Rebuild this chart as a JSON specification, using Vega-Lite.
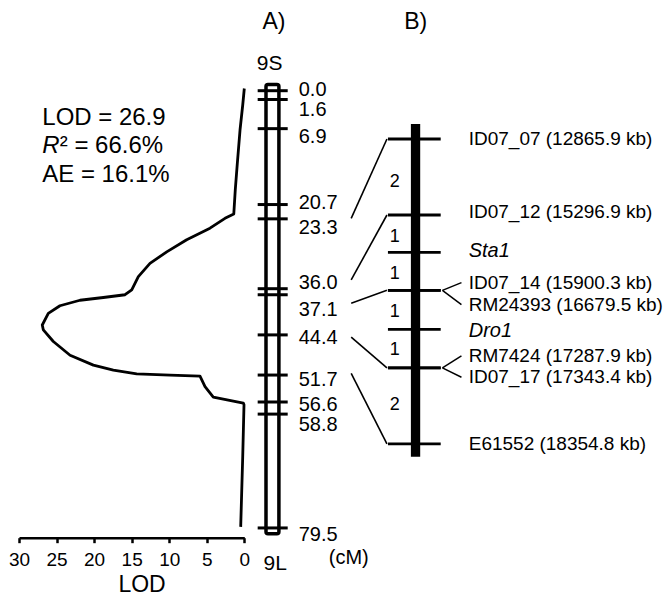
{
  "$schema": "https://vega.github.io/schema/vega-lite/v6.json",
  "padding": {"left": 8, "top": 0, "right": 0, "bottom": 0},
  "bounds": "flush",
  "spacing": 0,
  "config": {"view": {"stroke": null}, "font": "Liberation Sans", "text": {"color": "black", "font": "Liberation Sans"}},
  "datasets": {
    "lod": [
      {"cM": -0.4, "LOD": 0.0}, {"cM": 2.6, "LOD": 0.21}, {"cM": 7.15, "LOD": 0.57}, {"cM": 13.2, "LOD": 0.93},
      {"cM": 18.0, "LOD": 1.2}, {"cM": 22.4, "LOD": 1.4}, {"cM": 23.2, "LOD": 2.57}, {"cM": 25.0, "LOD": 4.57},
      {"cM": 27.1, "LOD": 7.67}, {"cM": 29.3, "LOD": 10.33}, {"cM": 31.4, "LOD": 12.56}, {"cM": 33.8, "LOD": 14.11},
      {"cM": 36.2, "LOD": 14.99}, {"cM": 37.1, "LOD": 15.88}, {"cM": 37.6, "LOD": 18.77}, {"cM": 38.1, "LOD": 21.88},
      {"cM": 39.1, "LOD": 24.55}, {"cM": 40.5, "LOD": 26.1}, {"cM": 42.6, "LOD": 26.9}, {"cM": 43.5, "LOD": 26.76},
      {"cM": 45.6, "LOD": 25.43}, {"cM": 48.1, "LOD": 23.2}, {"cM": 49.9, "LOD": 20.1}, {"cM": 50.8, "LOD": 17.44},
      {"cM": 51.5, "LOD": 14.33}, {"cM": 51.7, "LOD": 9.89}, {"cM": 51.9, "LOD": 5.9}, {"cM": 53.8, "LOD": 5.23},
      {"cM": 55.7, "LOD": 4.13}, {"cM": 56.8, "LOD": 0.13}, {"cM": 57.1, "LOD": 0.04}, {"cM": 66.5, "LOD": 0.21},
      {"cM": 79.3, "LOD": 0.48}
    ],
    "amap": [
      {"cM": 0.0, "label": "0.0", "label_cM": -0.2},
      {"cM": 1.6, "label": "1.6", "label_cM": 3.5},
      {"cM": 6.9, "label": "6.9", "label_cM": 8.5},
      {"cM": 20.7, "label": "20.7", "label_cM": 20.4},
      {"cM": 23.3, "label": "23.3", "label_cM": 24.9},
      {"cM": 36.0, "label": "36.0", "label_cM": 34.9},
      {"cM": 37.1, "label": "37.1", "label_cM": 39.9},
      {"cM": 44.4, "label": "44.4", "label_cM": 45.0},
      {"cM": 51.7, "label": "51.7", "label_cM": 52.6},
      {"cM": 56.6, "label": "56.6", "label_cM": 57.1},
      {"cM": 58.8, "label": "58.8", "label_cM": 60.7},
      {"cM": 79.5, "label": "79.5", "label_cM": 80.7}
    ],
    "bmap": [
      {"name": "ID07_07", "kb": 12865.9, "label": "ID07_07 (12865.9 kb)", "gene": false, "pair": false, "slot_cM": 8.78, "label_cM": 8.8},
      {"name": "ID07_12", "kb": 15296.9, "label": "ID07_12 (15296.9 kb)", "gene": false, "pair": false, "slot_cM": 22.6, "label_cM": 22.1},
      {"name": "Sta1", "label": "Sta1", "gene": true, "pair": false, "slot_cM": 29.4, "label_cM": 29.2},
      {"name": "ID07_14", "kb": 15900.3, "label": "ID07_14 (15900.3 kb)", "gene": false, "pair": true, "slot_cM": 36.3, "label_cM": 34.9},
      {"name": "RM24393", "kb": 16679.5, "label": "RM24393 (16679.5 kb)", "gene": false, "pair": true, "slot_cM": 36.3, "label_cM": 38.9},
      {"name": "Dro1", "label": "Dro1", "gene": true, "pair": false, "slot_cM": 43.4, "label_cM": 43.6},
      {"name": "RM7424", "kb": 17287.9, "label": "RM7424 (17287.9 kb)", "gene": false, "pair": true, "slot_cM": 50.4, "label_cM": 48.2},
      {"name": "ID07_17", "kb": 17343.4, "label": "ID07_17 (17343.4 kb)", "gene": false, "pair": true, "slot_cM": 50.4, "label_cM": 52.1},
      {"name": "E61552", "kb": 18354.8, "label": "E61552 (18354.8 kb)", "gene": false, "pair": false, "slot_cM": 64.2, "label_cM": 64.3}
    ],
    "intervals": [
      {"n": "2", "mid_cM": 16.6}, {"n": "1", "mid_cM": 26.6}, {"n": "1", "mid_cM": 33.3},
      {"n": "1", "mid_cM": 40.3}, {"n": "1", "mid_cM": 47.2}, {"n": "2", "mid_cM": 57.1}
    ],
    "links": [
      {"a_cM": 23.2, "b_cM": 8.78}, {"a_cM": 34.4, "b_cM": 22.6}, {"a_cM": 38.65, "b_cM": 36.3},
      {"a_cM": 44.8, "b_cM": 50.4}, {"a_cM": 51.4, "b_cM": 64.2}
    ]
  },
  "hconcat": [
    {
      "width": 225.3,
      "height": 537.7,
      "encoding": {
        "x": {"type": "quantitative", "scale": {"domain": [0, 30], "reverse": true, "nice": false, "zero": false},
          "axis": {"values": [0, 5, 10, 15, 20, 25, 30], "format": "d", "title": "LOD", "grid": false, "labelFlush": false,
            "labelOverlap": false, "labelFontSize": 19, "labelColor": "black", "labelPadding": 8, "tickSize": 5, "tickWidth": 2.5,
            "tickColor": "black", "domainColor": "black", "domainWidth": 2.5, "titleFontSize": 23, "titleFontWeight": "normal",
            "titleColor": "black", "titleX": 122.5, "titleY": 36, "titleBaseline": "top"}},
        "y": {"type": "quantitative", "scale": {"domain": [-16.49, 81.27], "reverse": true, "nice": false, "zero": false}, "axis": null}
      },
      "layer": [
        {
          "data": {"name": "lod"},
          "mark": {"type": "line", "color": "black", "strokeWidth": 2.8, "strokeJoin": "round"},
          "encoding": {
            "x": {"field": "LOD", "type": "quantitative", "title": "LOD"},
            "y": {"field": "cM", "type": "quantitative"},
            "order": {"field": "cM", "type": "quantitative"}
          }
        },
        {
          "data": {"values": [{}]},
          "mark": {"type": "text", "text": "LOD = 26.9", "align": "left", "baseline": "alphabetic", "fontSize": 24},
          "encoding": {"x": {"datum": 26.9, "type": "quantitative"}, "y": {"datum": 6.24, "type": "quantitative"}}
        },
        {
          "data": {"values": [{}]},
          "mark": {"type": "text", "text": "R", "fontStyle": "italic", "align": "left", "baseline": "alphabetic", "fontSize": 24},
          "encoding": {"x": {"datum": 26.9, "type": "quantitative"}, "y": {"datum": 11.4, "type": "quantitative"}}
        },
        {
          "data": {"values": [{}]},
          "mark": {"type": "text", "text": "² = 66.6%", "align": "left", "baseline": "alphabetic", "fontSize": 24, "dx": 17.5},
          "encoding": {"x": {"datum": 26.9, "type": "quantitative"}, "y": {"datum": 11.4, "type": "quantitative"}}
        },
        {
          "data": {"values": [{}]},
          "mark": {"type": "text", "text": "AE = 16.1%", "align": "left", "baseline": "alphabetic", "fontSize": 24},
          "encoding": {"x": {"datum": 26.9, "type": "quantitative"}, "y": {"datum": 16.65, "type": "quantitative"}}
        }
      ]
    },
    {
      "width": 420,
      "height": 537.7,
      "encoding": {
        "x": {"type": "quantitative", "scale": {"domain": [-0.1916, 2.7455], "nice": false, "zero": false}, "axis": null},
        "y": {"type": "quantitative", "scale": {"domain": [-16.49, 81.27], "reverse": true, "nice": false, "zero": false}, "axis": null}
      },
      "layer": [
        {
          "data": {"values": [{"chromosome": "9"}]},
          "mark": {"type": "rect", "fill": "white", "stroke": "black", "strokeWidth": 3.5, "cornerRadius": 2},
          "encoding": {
            "x": {"datum": -0.0448, "type": "quantitative"}, "x2": {"datum": 0.0455},
            "y": {"datum": -1.13, "type": "quantitative"}, "y2": {"datum": 80.55}
          }
        },
        {
          "data": {"name": "amap"},
          "mark": {"type": "rule", "color": "black", "strokeWidth": 3},
          "encoding": {
            "x": {"datum": -0.103, "type": "quantitative"}, "x2": {"datum": 0.107},
            "y": {"field": "cM", "type": "quantitative"}
          }
        },
        {
          "data": {"name": "amap"},
          "mark": {"type": "text", "align": "left", "baseline": "middle", "fontSize": 20},
          "encoding": {
            "x": {"datum": 0.184, "type": "quantitative"},
            "y": {"field": "label_cM", "type": "quantitative"},
            "text": {"field": "label"}
          }
        },
        {
          "data": {"name": "links"},
          "mark": {"type": "rule", "color": "black", "strokeWidth": 1.6},
          "encoding": {
            "x": {"datum": 0.551, "type": "quantitative"}, "x2": {"datum": 0.801},
            "y": {"field": "a_cM", "type": "quantitative"}, "y2": {"field": "b_cM"}
          }
        },
        {
          "data": {"values": [{"segment": "Dro1 region"}]},
          "mark": {"type": "rect", "fill": "black"},
          "encoding": {
            "x": {"datum": 0.9685, "type": "quantitative"}, "x2": {"datum": 1.0336},
            "y": {"datum": 6.07, "type": "quantitative"}, "y2": {"datum": 66.55}
          }
        },
        {
          "data": {"name": "bmap"},
          "mark": {"type": "rule", "color": "black", "strokeWidth": 2.8},
          "encoding": {
            "x": {"datum": 0.808, "type": "quantitative"}, "x2": {"datum": 1.177},
            "y": {"field": "slot_cM", "type": "quantitative"}
          }
        },
        {
          "data": {"name": "bmap"},
          "transform": [{"filter": "datum.pair"}],
          "mark": {"type": "rule", "color": "black", "strokeWidth": 1.5},
          "encoding": {
            "x": {"datum": 1.189, "type": "quantitative"}, "x2": {"datum": 1.322},
            "y": {"field": "slot_cM", "type": "quantitative"}, "y2": {"field": "label_cM"}
          }
        },
        {
          "data": {"name": "bmap"},
          "transform": [{"filter": "!datum.gene"}],
          "mark": {"type": "text", "align": "left", "baseline": "middle", "fontSize": 19},
          "encoding": {
            "x": {"datum": 1.373, "type": "quantitative"},
            "y": {"field": "label_cM", "type": "quantitative"},
            "text": {"field": "label"}
          }
        },
        {
          "data": {"name": "bmap"},
          "transform": [{"filter": "datum.gene"}],
          "mark": {"type": "text", "align": "left", "baseline": "middle", "fontSize": 20, "fontStyle": "italic"},
          "encoding": {
            "x": {"datum": 1.373, "type": "quantitative"},
            "y": {"field": "label_cM", "type": "quantitative"},
            "text": {"field": "label"}
          }
        },
        {
          "data": {"name": "intervals"},
          "mark": {"type": "text", "align": "center", "baseline": "middle", "fontSize": 18},
          "encoding": {
            "x": {"datum": 0.855, "type": "quantitative"},
            "y": {"field": "mid_cM", "type": "quantitative"},
            "text": {"field": "n"}
          }
        },
        {
          "data": {"values": [{}]},
          "mark": {"type": "text", "text": "A)", "align": "center", "baseline": "middle", "fontSize": 23},
          "encoding": {"x": {"datum": 0.011, "type": "quantitative"}, "y": {"datum": -12.45, "type": "quantitative"}}
        },
        {
          "data": {"values": [{}]},
          "mark": {"type": "text", "text": "B)", "align": "center", "baseline": "middle", "fontSize": 23},
          "encoding": {"x": {"datum": 1.002, "type": "quantitative"}, "y": {"datum": -12.45, "type": "quantitative"}}
        },
        {
          "data": {"values": [{}]},
          "mark": {"type": "text", "text": "9S", "align": "center", "baseline": "middle", "fontSize": 21},
          "encoding": {"x": {"datum": -0.019, "type": "quantitative"}, "y": {"datum": -4.8, "type": "quantitative"}}
        },
        {
          "data": {"values": [{}]},
          "mark": {"type": "text", "text": "9L", "align": "center", "baseline": "middle", "fontSize": 21},
          "encoding": {"x": {"datum": 0.0196, "type": "quantitative"}, "y": {"datum": 86.0, "type": "quantitative"}}
        },
        {
          "data": {"values": [{}]},
          "mark": {"type": "text", "text": "(cM)", "align": "left", "baseline": "middle", "fontSize": 20},
          "encoding": {"x": {"datum": 0.394, "type": "quantitative"}, "y": {"datum": 84.9, "type": "quantitative"}}
        }
      ]
    }
  ]
}
